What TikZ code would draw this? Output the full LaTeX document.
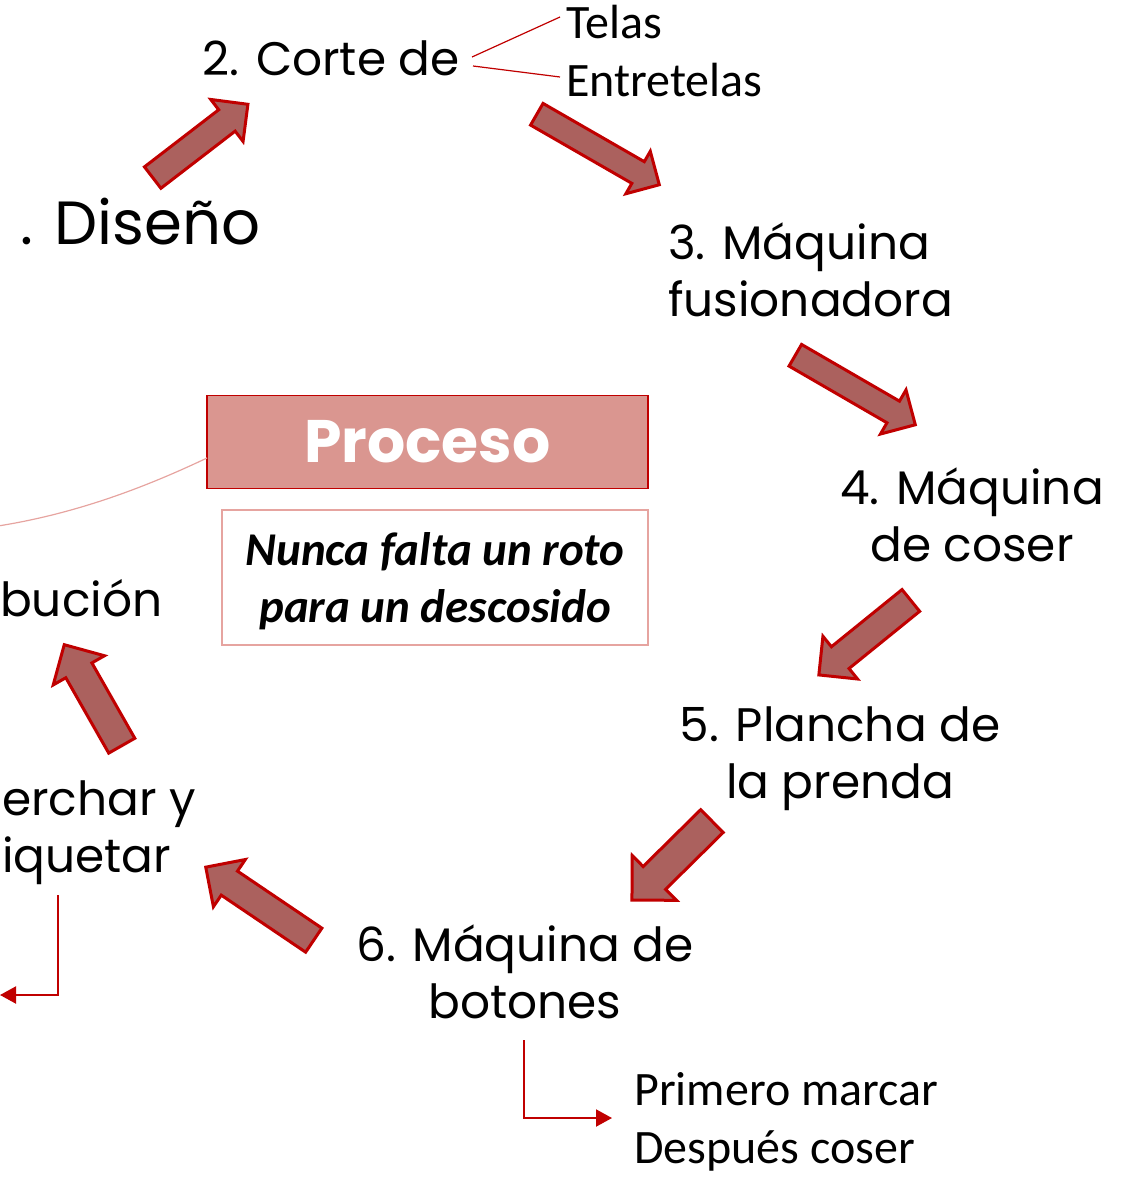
\documentclass[tikz,border=0pt]{standalone}
\usepackage{fontspec}
\usetikzlibrary{shapes.arrows,arrows.meta}
\newfontfamily\gothic{Poppins}
\newfontfamily\calib{Carlito}
\definecolor{arrfill}{HTML}{AB615E}
\definecolor{arrline}{HTML}{C00000}
\definecolor{procfill}{HTML}{DA9690}
\definecolor{palered}{HTML}{E6A4A0}
\tikzset{
  lbl/.style={inner sep=0pt, font=\gothic\fontsize{47}{57}\selectfont, align=center},
  sublbl/.style={inner sep=0pt, font=\calib\fontsize{48}{58}\selectfont, align=left},
  blockarr/.style={single arrow, draw=arrline, fill=arrfill, line width=3pt,
    inner xsep=0pt, single arrow tip angle=90},
  thinred/.style={draw=arrline, line width=1.2pt},
  elbow/.style={draw=arrline, line width=2pt, -{Triangle[length=16pt,width=17pt]}},
}
\newcommand\blockarrow[7]{%
  \pgfmathsetmacro\bal{veclen(#4-#2,#5-#3)}%
  \pgfmathsetmacro\baa{atan2(-(#5-#3),#4-#2)}%
  \pgfmathsetmacro\bae{(#7-#6)/2}%
  \pgfmathsetmacro\bas{#6/2}%
  \node[blockarr, minimum height=\bal pt, inner ysep=\bas pt,
    single arrow head extend=\bae pt, rotate=\baa, anchor=tail] (#1) at (#2,#3) {};%
}
\begin{document}
\begin{tikzpicture}[x=1pt,y=-1pt]
\useasboundingbox (0,0) rectangle (1127,1182);
\clip (0,0) rectangle (1127,1182);
% texts
\node[lbl] (corte) at (331,58) {2. Corte de};
\node[sublbl, anchor=west] (telas) at (566,22) {Telas};
\node[sublbl, anchor=west] (entre) at (566,80) {Entretelas};
\node[lbl, anchor=west, font=\gothic\fontsize{61}{70}\selectfont] (diseno) at (20,222) {. Diseño};
\node[lbl, anchor=west, align=left] (fusion) at (668,270) {3. Máquina\\fusionadora};
\node[lbl] (coser) at (972,515) {4. Máquina\\de coser};
\node[lbl] (plancha) at (840,759) {5. Plancha de\\la prenda};
\node[lbl] (botones) at (525,972) {6. Máquina de\\botones};
\node[lbl, anchor=west, align=left] (perchar) at (2,833) {erchar y\\iquetar};
\node[lbl, anchor=west] (distrib) at (0,598) {bución};
\node[sublbl, anchor=west] (primero) at (634,1122) {Primero marcar\\Después coser};
% boxes
\node[draw=arrline, line width=1.5pt, fill=procfill, minimum width=441pt, minimum height=93pt,
  inner sep=0pt, text=white, font=\gothic\bfseries\fontsize{60}{62}\selectfont] (proceso) at (427.5,442) {Proceso};
\node[draw=palered, line width=1.5pt, fill=white, minimum width=426pt, minimum height=135pt,
  inner sep=0pt] (quote) at (435,577.5) {};
\node[inner sep=0pt, align=center, font=\calib\bfseries\itshape\fontsize{47}{57}\selectfont] (quotetext) at (435,581) {Nunca falta un roto\\para un descosido};
% block arrows
\blockarrow{a1}{151.5}{178.5}{247}{105}{24}{50}
\blockarrow{a2}{535.5}{113.5}{658}{184}{22}{46}
\blockarrow{a3}{794}{354.5}{914}{424}{22}{48}
\blockarrow{a4}{912}{599.5}{820}{674}{25}{52}
\blockarrow{a5}{713}{820}{633}{899}{29}{60}
\blockarrow{a6}{315}{941}{207}{868}{26}{54}
\blockarrow{a7}{122.5}{747}{65}{646}{27}{56}
% thin connectors
\coordinate (c1) at (472,57);
\coordinate (c2) at (473,66);
\coordinate (t1) at (560,17);
\coordinate (t2) at (560,77);
\draw[thinred] (c1) -- (t1);
\draw[thinred] (c2) -- (t2);
\coordinate (pc) at (207,458);
\coordinate (pe) at (-2,526);
\draw[palered, line width=1.2pt] (pc) .. controls (150,485) and (80,513) .. (pe);
\coordinate (e1) at (58,895);
\coordinate (e2) at (0,995);
\draw[elbow] (e1) |- (e2);
\coordinate (b1) at (524,1040);
\coordinate (b2) at (612,1118);
\draw[elbow] (b1) |- (b2);
\end{tikzpicture}
\end{document}
